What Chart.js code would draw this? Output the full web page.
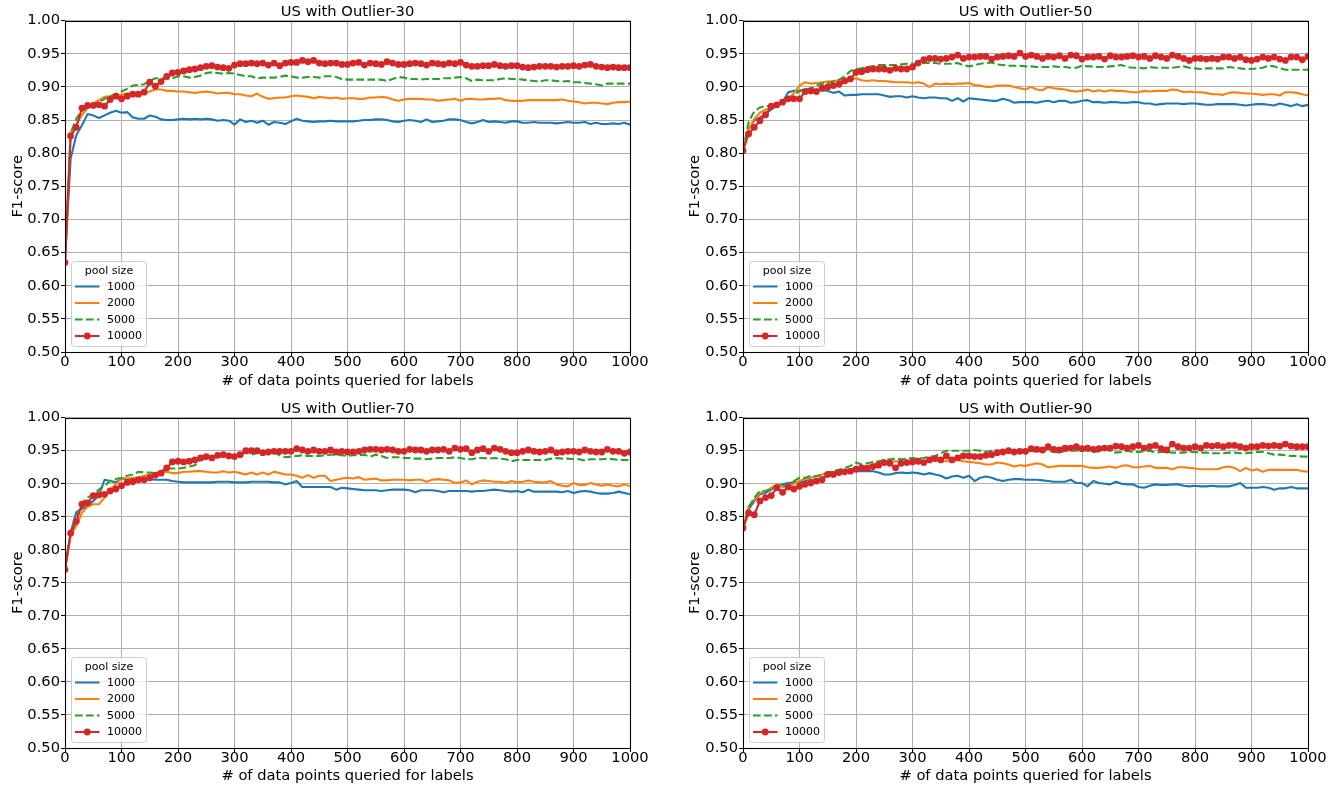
<!DOCTYPE html>
<html><head><meta charset="utf-8">
<script src="https://cdn.jsdelivr.net/npm/chart.js@4.4.1/dist/chart.umd.min.js"></script>
<style>
html,body{margin:0;padding:0;background:#fff;width:1342px;height:789px;overflow:hidden;}
canvas{position:absolute;}
</style></head><body>
<canvas id="c0" width="671" height="394" style="left:0px;top:0px;width:671px;height:394px"></canvas>
<canvas id="c1" width="671" height="394" style="left:671px;top:0px;width:671px;height:394px"></canvas>
<canvas id="c2" width="671" height="395" style="left:0px;top:394px;width:671px;height:395px"></canvas>
<canvas id="c3" width="671" height="395" style="left:671px;top:394px;width:671px;height:395px"></canvas>
<script>
// ---------------- data ----------------
const panelTitles = ['US with Outlier-30', 'US with Outlier-50', 'US with Outlier-70', 'US with Outlier-90'];
const poolSizes = ['1000', '2000', '5000', '10000'];
const legendTitle = 'pool size';
const xAxisTitle = '# of data points queried for labels';
const yAxisTitle = 'F1-score';
const xTicks = [0, 100, 200, 300, 400, 500, 600, 700, 800, 900, 1000];
const yTicks = [0.50, 0.55, 0.60, 0.65, 0.70, 0.75, 0.80, 0.85, 0.90, 0.95, 1.00];
const xQueries = [0,10,20,30,40,50,60,70,80,90,100,110,120,130,140,150,160,170,180,190,200,210,220,230,240,250,260,270,280,290,300,310,320,330,340,350,360,370,380,390,400,410,420,430,440,450,460,470,480,490,500,510,520,530,540,550,560,570,580,590,600,610,620,630,640,650,660,670,680,690,700,710,720,730,740,750,760,770,780,790,800,810,820,830,840,850,860,870,880,890,900,910,920,930,940,950,960,970,980,990,1000];

// Outlier-30
const o30_1000 = [0.640,0.792,0.827,0.842,0.859,0.857,0.853,0.857,0.861,0.864,
0.861,0.862,0.854,0.852,0.852,0.857,0.855,0.851,0.850,0.850,
0.851,0.852,0.851,0.852,0.851,0.852,0.851,0.849,0.850,0.849,
0.843,0.851,0.847,0.849,0.846,0.849,0.843,0.847,0.846,0.844,
0.848,0.852,0.849,0.848,0.847,0.848,0.848,0.849,0.848,0.848,
0.848,0.848,0.849,0.850,0.850,0.851,0.851,0.850,0.848,0.847,
0.849,0.850,0.849,0.847,0.851,0.847,0.848,0.849,0.851,0.851,
0.850,0.847,0.845,0.847,0.850,0.847,0.848,0.847,0.846,0.848,
0.848,0.846,0.846,0.847,0.846,0.846,0.846,0.845,0.846,0.847,
0.846,0.846,0.847,0.844,0.846,0.844,0.844,0.845,0.844,0.846,
0.843];
const o30_2000 = [0.635,0.832,0.844,0.857,0.868,0.875,0.880,0.885,0.886,0.887,
0.888,0.890,0.891,0.890,0.891,0.893,0.896,0.896,0.894,0.894,
0.893,0.893,0.892,0.891,0.892,0.893,0.892,0.890,0.891,0.891,
0.889,0.889,0.887,0.886,0.890,0.885,0.882,0.883,0.884,0.884,
0.886,0.887,0.886,0.885,0.883,0.885,0.884,0.883,0.884,0.882,
0.883,0.883,0.882,0.882,0.884,0.884,0.885,0.884,0.881,0.879,
0.881,0.882,0.882,0.882,0.881,0.881,0.879,0.880,0.881,0.882,
0.879,0.882,0.882,0.881,0.881,0.882,0.882,0.883,0.880,0.879,
0.879,0.879,0.880,0.880,0.880,0.880,0.880,0.880,0.881,0.879,
0.878,0.877,0.875,0.876,0.876,0.875,0.874,0.876,0.877,0.877,
0.878];
const o30_5000 = [0.635,0.830,0.852,0.864,0.869,0.873,0.877,0.882,0.886,0.889,
0.893,0.897,0.902,0.903,0.904,0.909,0.913,0.913,0.912,0.913,
0.916,0.916,0.914,0.915,0.917,0.921,0.922,0.921,0.920,0.921,
0.920,0.918,0.916,0.916,0.913,0.914,0.914,0.914,0.915,0.917,
0.916,0.914,0.914,0.915,0.915,0.914,0.916,0.916,0.915,0.912,
0.911,0.911,0.911,0.911,0.911,0.911,0.911,0.909,0.912,0.915,
0.914,0.912,0.912,0.911,0.912,0.912,0.912,0.913,0.913,0.914,
0.915,0.913,0.909,0.911,0.910,0.910,0.910,0.912,0.913,0.912,
0.912,0.911,0.910,0.909,0.908,0.910,0.910,0.909,0.908,0.909,
0.907,0.907,0.906,0.905,0.904,0.902,0.905,0.905,0.905,0.905,
0.905];
const o30_10000 = [0.635,0.826,0.839,0.868,0.872,0.872,0.873,0.871,0.881,0.886,
0.882,0.886,0.889,0.889,0.892,0.907,0.901,0.908,0.916,0.921,
0.922,0.924,0.926,0.927,0.929,0.931,0.932,0.930,0.929,0.928,
0.933,0.935,0.935,0.936,0.935,0.936,0.933,0.936,0.932,0.936,
0.937,0.937,0.940,0.938,0.940,0.936,0.935,0.936,0.936,0.934,
0.934,0.936,0.937,0.933,0.936,0.935,0.934,0.938,0.936,0.934,
0.934,0.935,0.936,0.935,0.933,0.936,0.935,0.934,0.936,0.935,
0.937,0.933,0.931,0.931,0.932,0.932,0.934,0.932,0.931,0.932,
0.932,0.930,0.929,0.930,0.931,0.931,0.931,0.930,0.931,0.931,
0.932,0.931,0.933,0.934,0.931,0.930,0.929,0.930,0.929,0.929,
0.929];

// Outlier-50
const o50_1000 = [0.804,0.836,0.849,0.854,0.859,0.866,0.872,0.877,0.892,0.894,
0.894,0.896,0.896,0.896,0.895,0.894,0.891,0.893,0.887,0.888,
0.888,0.889,0.889,0.889,0.889,0.887,0.885,0.886,0.886,0.884,
0.886,0.884,0.883,0.884,0.884,0.883,0.883,0.879,0.883,0.878,
0.883,0.882,0.881,0.880,0.879,0.879,0.882,0.880,0.876,0.877,
0.877,0.877,0.876,0.878,0.879,0.877,0.879,0.879,0.876,0.877,
0.879,0.880,0.877,0.877,0.876,0.877,0.877,0.876,0.876,0.877,
0.877,0.875,0.875,0.873,0.874,0.875,0.875,0.875,0.874,0.875,
0.875,0.874,0.873,0.873,0.874,0.874,0.874,0.874,0.873,0.872,
0.873,0.874,0.874,0.873,0.872,0.875,0.873,0.871,0.874,0.871,
0.873];
const o50_2000 = [0.804,0.836,0.852,0.861,0.866,0.869,0.873,0.878,0.883,0.890,
0.902,0.907,0.905,0.906,0.907,0.908,0.909,0.910,0.910,0.911,
0.913,0.910,0.909,0.910,0.909,0.909,0.908,0.907,0.907,0.907,
0.906,0.907,0.905,0.900,0.905,0.904,0.905,0.904,0.905,0.905,
0.906,0.903,0.902,0.900,0.900,0.902,0.902,0.902,0.900,0.898,
0.896,0.900,0.896,0.895,0.900,0.898,0.897,0.896,0.894,0.893,
0.894,0.896,0.893,0.895,0.893,0.895,0.894,0.894,0.893,0.892,
0.892,0.894,0.893,0.894,0.894,0.894,0.896,0.895,0.892,0.893,
0.892,0.892,0.891,0.889,0.889,0.888,0.891,0.892,0.891,0.890,
0.890,0.889,0.888,0.889,0.889,0.887,0.892,0.892,0.891,0.889,
0.887];
const o50_5000 = [0.804,0.847,0.863,0.869,0.871,0.871,0.874,0.877,0.881,0.886,
0.894,0.896,0.898,0.902,0.905,0.906,0.908,0.911,0.916,0.924,
0.927,0.928,0.930,0.931,0.933,0.933,0.933,0.933,0.934,0.935,
0.935,0.935,0.936,0.936,0.936,0.935,0.935,0.935,0.936,0.933,
0.931,0.933,0.935,0.936,0.937,0.934,0.933,0.932,0.932,0.932,
0.931,0.931,0.930,0.930,0.930,0.931,0.930,0.930,0.929,0.929,
0.932,0.931,0.931,0.930,0.930,0.931,0.932,0.933,0.930,0.929,
0.929,0.928,0.930,0.929,0.929,0.929,0.929,0.930,0.931,0.929,
0.928,0.927,0.928,0.928,0.928,0.928,0.930,0.929,0.928,0.927,
0.927,0.928,0.929,0.932,0.931,0.928,0.926,0.926,0.926,0.926,
0.926];
const o50_10000 = [0.804,0.829,0.839,0.849,0.858,0.871,0.873,0.877,0.882,0.882,
0.882,0.893,0.894,0.893,0.898,0.900,0.902,0.904,0.909,0.912,
0.922,0.923,0.926,0.927,0.927,0.927,0.925,0.928,0.927,0.927,
0.930,0.936,0.941,0.943,0.943,0.942,0.943,0.945,0.948,0.943,
0.945,0.945,0.946,0.946,0.942,0.945,0.946,0.947,0.946,0.951,
0.946,0.948,0.946,0.943,0.946,0.945,0.947,0.943,0.948,0.947,
0.942,0.945,0.945,0.946,0.942,0.947,0.945,0.945,0.946,0.947,
0.945,0.946,0.943,0.947,0.945,0.943,0.948,0.946,0.943,0.940,
0.943,0.943,0.942,0.943,0.942,0.945,0.945,0.943,0.945,0.941,
0.940,0.942,0.945,0.943,0.945,0.942,0.940,0.945,0.945,0.941,
0.946];

// Outlier-70
const o70_1000 = [0.770,0.826,0.857,0.862,0.866,0.874,0.882,0.906,0.904,0.902,
0.908,0.907,0.907,0.908,0.907,0.907,0.906,0.906,0.906,0.904,
0.903,0.902,0.902,0.902,0.902,0.902,0.902,0.903,0.903,0.903,
0.902,0.902,0.902,0.903,0.903,0.903,0.903,0.902,0.902,0.899,
0.901,0.904,0.895,0.895,0.895,0.895,0.895,0.895,0.891,0.894,
0.893,0.892,0.891,0.890,0.890,0.890,0.889,0.890,0.891,0.891,
0.891,0.890,0.887,0.890,0.890,0.890,0.889,0.887,0.889,0.889,
0.889,0.889,0.888,0.889,0.889,0.890,0.891,0.890,0.889,0.888,
0.889,0.887,0.891,0.888,0.888,0.888,0.888,0.888,0.887,0.889,
0.886,0.888,0.889,0.888,0.886,0.885,0.885,0.886,0.888,0.886,
0.884];
const o70_2000 = [0.770,0.822,0.836,0.856,0.865,0.869,0.869,0.879,0.891,0.899,
0.909,0.908,0.909,0.909,0.912,0.914,0.916,0.917,0.918,0.916,
0.916,0.918,0.918,0.919,0.919,0.918,0.917,0.917,0.919,0.917,
0.918,0.916,0.914,0.917,0.914,0.917,0.914,0.918,0.916,0.914,
0.914,0.912,0.909,0.913,0.909,0.912,0.912,0.904,0.906,0.908,
0.909,0.908,0.910,0.906,0.907,0.908,0.905,0.905,0.906,0.906,
0.906,0.905,0.906,0.906,0.903,0.906,0.907,0.906,0.905,0.901,
0.902,0.905,0.899,0.903,0.905,0.904,0.903,0.903,0.901,0.904,
0.902,0.903,0.905,0.903,0.902,0.902,0.904,0.899,0.897,0.896,
0.901,0.898,0.898,0.901,0.899,0.897,0.899,0.897,0.896,0.899,
0.896];
const o70_5000 = [0.770,0.826,0.848,0.871,0.879,0.884,0.891,0.897,0.904,0.907,
0.909,0.912,0.914,0.918,0.917,0.917,0.916,0.919,0.923,0.923,
0.923,0.924,0.926,0.928,0.936,0.938,0.938,0.941,0.942,0.943,
0.942,0.944,0.947,0.944,0.946,0.947,0.945,0.947,0.943,0.940,
0.941,0.942,0.943,0.942,0.942,0.942,0.943,0.944,0.944,0.943,
0.942,0.943,0.943,0.944,0.941,0.944,0.942,0.939,0.940,0.940,
0.939,0.939,0.938,0.938,0.937,0.938,0.939,0.939,0.939,0.940,
0.939,0.937,0.937,0.939,0.939,0.938,0.939,0.938,0.937,0.934,
0.936,0.936,0.936,0.936,0.936,0.936,0.938,0.939,0.938,0.938,
0.937,0.937,0.935,0.937,0.937,0.937,0.938,0.937,0.936,0.936,
0.936];
const o70_10000 = [0.770,0.825,0.843,0.869,0.871,0.882,0.883,0.884,0.889,0.892,
0.897,0.902,0.903,0.906,0.906,0.909,0.913,0.916,0.924,0.933,
0.934,0.933,0.934,0.936,0.939,0.941,0.939,0.943,0.944,0.942,
0.941,0.944,0.950,0.950,0.950,0.947,0.948,0.949,0.949,0.949,
0.949,0.953,0.951,0.949,0.951,0.949,0.949,0.951,0.948,0.949,
0.948,0.948,0.949,0.951,0.952,0.952,0.951,0.952,0.951,0.949,
0.949,0.952,0.951,0.951,0.949,0.951,0.951,0.952,0.949,0.954,
0.952,0.953,0.947,0.951,0.953,0.949,0.954,0.952,0.949,0.947,
0.947,0.949,0.951,0.949,0.948,0.949,0.951,0.947,0.948,0.949,
0.949,0.948,0.951,0.949,0.948,0.948,0.952,0.949,0.949,0.946,
0.948];

// Outlier-90
const o90_1000 = [0.833,0.861,0.874,0.884,0.886,0.891,0.897,0.899,0.901,0.902,
0.902,0.904,0.906,0.906,0.908,0.914,0.916,0.917,0.918,0.919,
0.919,0.919,0.919,0.919,0.917,0.914,0.914,0.916,0.917,0.916,
0.917,0.916,0.914,0.916,0.914,0.912,0.908,0.911,0.912,0.909,
0.912,0.904,0.909,0.911,0.909,0.906,0.904,0.906,0.907,0.907,
0.906,0.906,0.906,0.905,0.904,0.903,0.903,0.903,0.906,0.901,
0.901,0.896,0.904,0.901,0.900,0.899,0.903,0.900,0.899,0.899,
0.895,0.894,0.897,0.899,0.898,0.898,0.899,0.899,0.897,0.896,
0.897,0.896,0.896,0.897,0.896,0.896,0.896,0.898,0.901,0.894,
0.894,0.894,0.895,0.894,0.891,0.893,0.893,0.895,0.893,0.893,
0.893];
const o90_2000 = [0.833,0.866,0.876,0.886,0.889,0.894,0.899,0.895,0.897,0.900,
0.904,0.907,0.909,0.912,0.914,0.917,0.917,0.919,0.921,0.922,
0.923,0.926,0.927,0.929,0.932,0.933,0.933,0.934,0.933,0.932,
0.933,0.933,0.934,0.934,0.936,0.934,0.934,0.937,0.936,0.934,
0.933,0.932,0.931,0.929,0.929,0.932,0.931,0.929,0.926,0.928,
0.927,0.929,0.931,0.929,0.925,0.926,0.927,0.927,0.927,0.927,
0.927,0.925,0.924,0.924,0.925,0.926,0.924,0.927,0.928,0.925,
0.925,0.926,0.927,0.924,0.924,0.924,0.922,0.925,0.925,0.924,
0.923,0.922,0.922,0.922,0.922,0.925,0.926,0.924,0.919,0.924,
0.920,0.922,0.918,0.921,0.921,0.921,0.921,0.921,0.921,0.919,
0.918];
const o90_5000 = [0.833,0.864,0.879,0.889,0.889,0.891,0.897,0.896,0.899,0.904,
0.909,0.909,0.912,0.911,0.913,0.917,0.919,0.921,0.924,0.927,
0.932,0.929,0.931,0.933,0.934,0.936,0.937,0.938,0.937,0.938,
0.939,0.938,0.939,0.941,0.942,0.946,0.950,0.950,0.950,0.950,
0.950,0.951,0.950,0.948,0.950,0.950,0.950,0.950,0.950,0.951,
0.950,0.950,0.948,0.950,0.950,0.948,0.947,0.950,0.950,0.950,
0.951,0.950,0.948,0.949,0.952,0.950,0.947,0.948,0.950,0.948,
0.948,0.949,0.950,0.947,0.948,0.948,0.947,0.947,0.947,0.948,
0.948,0.947,0.947,0.946,0.946,0.946,0.947,0.947,0.946,0.946,
0.947,0.948,0.948,0.946,0.944,0.944,0.943,0.942,0.942,0.941,
0.941];
const o90_10000 = [0.833,0.856,0.853,0.874,0.879,0.882,0.894,0.887,0.895,0.892,
0.896,0.899,0.901,0.904,0.906,0.914,0.914,0.917,0.918,0.919,
0.922,0.924,0.923,0.926,0.928,0.932,0.931,0.924,0.931,0.932,
0.933,0.934,0.932,0.936,0.938,0.936,0.942,0.936,0.939,0.942,
0.942,0.941,0.941,0.943,0.944,0.947,0.948,0.950,0.948,0.949,
0.949,0.953,0.952,0.951,0.956,0.952,0.951,0.954,0.954,0.956,
0.953,0.954,0.952,0.953,0.954,0.954,0.957,0.956,0.954,0.956,
0.958,0.954,0.956,0.958,0.953,0.951,0.960,0.956,0.954,0.954,
0.956,0.954,0.958,0.957,0.958,0.956,0.958,0.958,0.956,0.954,
0.956,0.956,0.958,0.957,0.958,0.957,0.960,0.957,0.956,0.956,
0.956];

const panelSeries = [
  [o30_1000, o30_2000, o30_5000, o30_10000],
  [o50_1000, o50_2000, o50_5000, o50_10000],
  [o70_1000, o70_2000, o70_5000, o70_10000],
  [o90_1000, o90_2000, o90_5000, o90_10000]
];

// ---------------- styling / layout ----------------
const FONT = "'DejaVu Sans', 'Liberation Sans', sans-serif";
Chart.defaults.font.family = FONT;
Chart.defaults.color = '#000';
const colors = ['#1f77b4', '#ff7f0e', '#2ca02c', '#d62728'];
const dashes = [[], [], [7.7, 3.3], []];
const markers = [0, 0, 0, 3.4];

const layouts = [
  {padLeft: 5,  yW: 60, padRight: 41, titleTop: 3, xH: 42},
  {padLeft: 11, yW: 61, padRight: 34, titleTop: 3, xH: 42},
  {padLeft: 5,  yW: 60, padRight: 41, titleTop: 6, xH: 41},
  {padLeft: 11, yW: 61, padRight: 34, titleTop: 6, xH: 41}
];

const framePlugin = {
  id: 'frame',
  afterDatasetsDraw(chart) {
    const {ctx, chartArea: a} = chart;
    ctx.save();
    ctx.strokeStyle = '#000';
    ctx.lineWidth = 1.1;
    const l = Math.round(a.left) + 0.5, t = Math.round(a.top) + 0.5;
    const r = Math.round(a.right) + 0.5, b = Math.round(a.bottom) + 0.5;
    ctx.strokeRect(l, t, r - l, b - t);
    ctx.restore();
  }
};

function roundRectPath(ctx, x, y, w, h, r) {
  ctx.beginPath();
  ctx.moveTo(x + r, y);
  ctx.lineTo(x + w - r, y);
  ctx.arcTo(x + w, y, x + w, y + r, r);
  ctx.lineTo(x + w, y + h - r);
  ctx.arcTo(x + w, y + h, x + w - r, y + h, r);
  ctx.lineTo(x + r, y + h);
  ctx.arcTo(x, y + h, x, y + h - r, r);
  ctx.lineTo(x, y + r);
  ctx.arcTo(x, y, x + r, y, r);
  ctx.closePath();
}

const legendPlugin = {
  id: 'poolLegend',
  afterDraw(chart) {
    const {ctx, chartArea: a} = chart;
    const bw = 75, bh = 85;
    const bx = Math.round(a.left) + 6.5;
    const by = Math.round(a.bottom) - 5.5 - bh;
    ctx.save();
    roundRectPath(ctx, bx, by, bw, bh, 3);
    ctx.fillStyle = 'rgba(255,255,255,0.8)';
    ctx.fill();
    ctx.strokeStyle = '#cccccc';
    ctx.lineWidth = 1;
    ctx.stroke();
    ctx.fillStyle = '#000';
    ctx.font = '11px ' + FONT;
    ctx.textAlign = 'center';
    ctx.textBaseline = 'middle';
    ctx.fillText(legendTitle, bx + bw / 2, by + 10);
    chart.data.datasets.forEach((ds, i) => {
      const y = by + 25 + i * 16.5;
      ctx.save();
      ctx.strokeStyle = ds.borderColor;
      ctx.lineWidth = 2;
      ctx.setLineDash(ds.borderDash || []);
      ctx.beginPath();
      ctx.moveTo(bx + 3.5, y);
      ctx.lineTo(bx + 28, y);
      ctx.stroke();
      ctx.restore();
      if (ds.pointRadius > 0) {
        ctx.beginPath();
        ctx.arc(bx + 15.75, y, ds.pointRadius, 0, Math.PI * 2);
        ctx.fillStyle = ds.borderColor;
        ctx.fill();
      }
      ctx.fillStyle = '#000';
      ctx.textAlign = 'left';
      ctx.fillText(ds.label, bx + 35.5, y + 0.5);
    });
    ctx.restore();
  }
};

function makePanel(idx) {
  const L = layouts[idx];
  const series = panelSeries[idx];
  const datasets = series.map((vals, k) => ({
    label: poolSizes[k],
    data: xQueries.map((x, i) => ({x: x, y: vals[i]})),
    borderColor: colors[k],
    backgroundColor: colors[k],
    borderWidth: 2.1,
    borderDash: dashes[k],
    borderJoinStyle: 'round',
    pointRadius: markers[k],
    pointHoverRadius: markers[k],
    pointBorderWidth: 0,
    pointBackgroundColor: colors[k],
    tension: 0,
    fill: false,
    clip: 0,
    order: 4 - k
  }));
  new Chart(document.getElementById('c' + idx), {
    type: 'line',
    data: {datasets},
    plugins: [framePlugin, legendPlugin],
    options: {
      responsive: false,
      maintainAspectRatio: false,
      devicePixelRatio: 1,
      animation: false,
      events: [],
      layout: {padding: {left: L.padLeft, right: L.padRight, top: 0, bottom: 0}},
      plugins: {
        legend: {display: false},
        tooltip: {enabled: false},
        title: {
          display: true,
          fullSize: false,
          text: panelTitles[idx],
          color: '#000',
          font: {size: 14.7, weight: 'normal', lineHeight: 1.2},
          padding: {top: L.titleTop, bottom: 0}
        }
      },
      scales: {
        x: {
          type: 'linear',
          min: xTicks[0],
          max: xTicks[xTicks.length - 1],
          afterBuildTicks: (s) => { s.ticks = xTicks.map(v => ({value: v})); },
          afterFit: (s) => { s.height = L.xH; },
          ticks: {
            font: {size: 14.7, lineHeight: 1.0},
            color: '#000',
            padding: -1,
            maxRotation: 0,
            autoSkip: false,
            callback: (v) => String(v)
          },
          grid: {color: '#b0b0b0', lineWidth: 1, tickLength: 4, tickColor: '#000', tickWidth: 1},
          border: {display: false},
          title: {display: true, text: xAxisTitle, color: '#000', font: {size: 14.7}, padding: {top: 0, bottom: 4}}
        },
        y: {
          type: 'linear',
          min: yTicks[0],
          max: yTicks[yTicks.length - 1],
          afterBuildTicks: (s) => { s.ticks = yTicks.map(v => ({value: v})); },
          afterFit: (s) => { s.width = L.yW; },
          ticks: {
            font: {size: 14.7},
            color: '#000',
            padding: 1,
            autoSkip: false,
            callback: (v) => Number(v).toFixed(2)
          },
          grid: {color: '#b0b0b0', lineWidth: 1, tickLength: 4, tickColor: '#000', tickWidth: 1},
          border: {display: false},
          title: {display: true, text: yAxisTitle, color: '#000', font: {size: 14.7}, padding: {top: 4, bottom: 4}}
        }
      }
    }
  });
}

for (let i = 0; i < 4; i++) makePanel(i);
</script>
</body></html>
